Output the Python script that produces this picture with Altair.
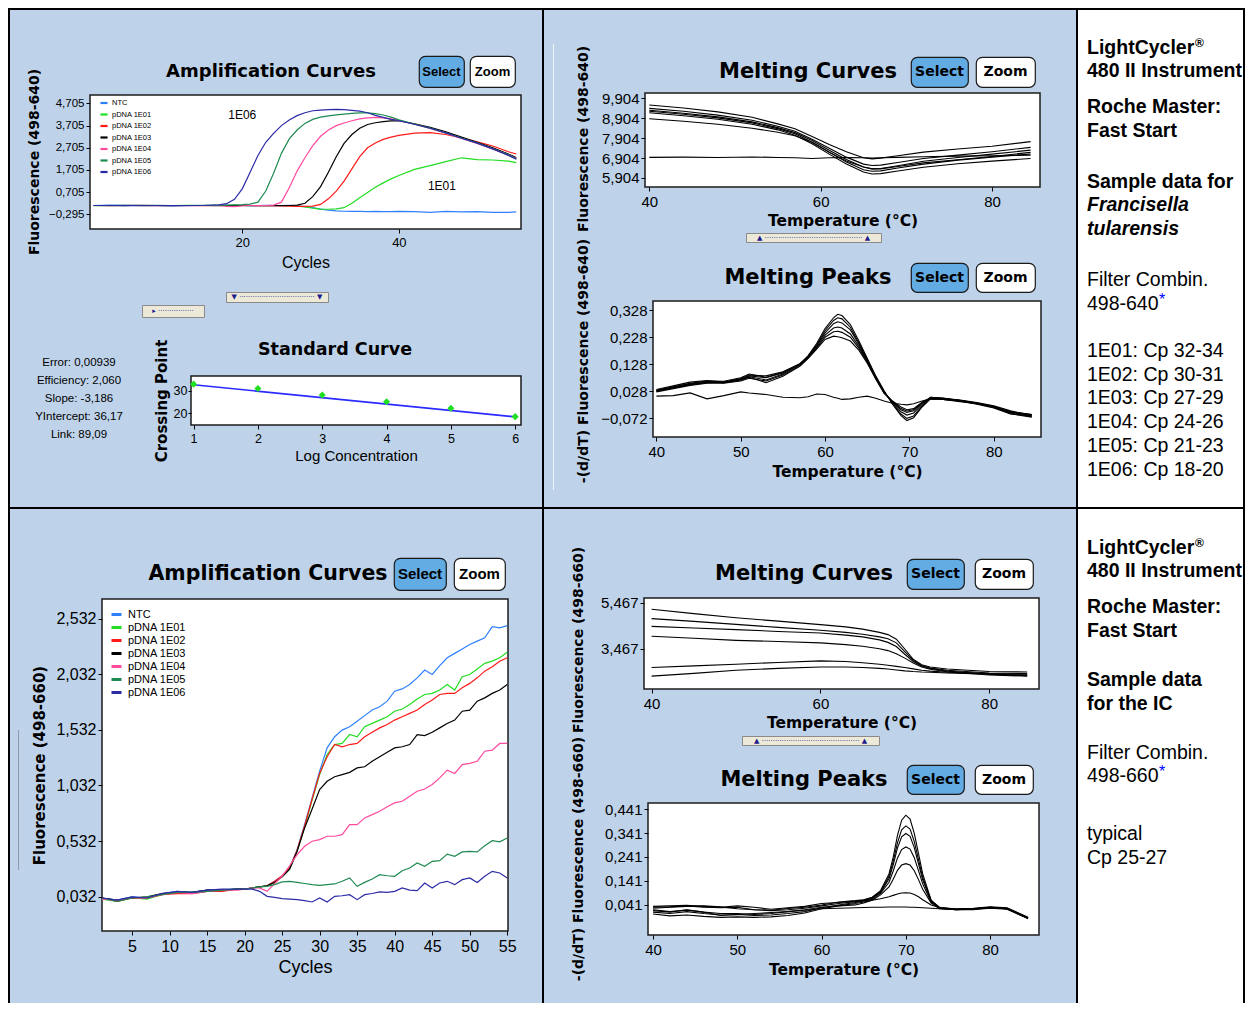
import altair as alt
import pandas as pd

# ------------------------------------------------------------------ data
SERIES = ["NTC", "pDNA 1E01", "pDNA 1E02", "pDNA 1E03", "pDNA 1E04", "pDNA 1E05", "pDNA 1E06"]
SERIES_COLORS = ["#2F80FF", "#22DD22", "#FF1A1A", "#000000", "#FF4A9E", "#1F8A52", "#2B2BA6"]

# top-left amplification curves (498-640)
TL_CYCLES = [1, 3, 5, 7, 9, 11, 13, 15, 17, 18, 19, 20, 21, 22, 23, 24, 25, 26, 27, 28, 29, 30, 31, 32, 33, 34,
             35, 36, 37, 38, 39, 40, 42, 44, 46, 48, 50, 52, 54, 55]
TL_NTC = [0.10, 0.12, 0.09, 0.10, 0.09, 0.10, 0.09, 0.10, 0.10, 0.11, 0.10, 0.10, 0.09, 0.10, 0.11, 0.10, 0.10, 0.11,
          0.08, 0.05, 0.00, -0.06, -0.11, -0.14, -0.16, -0.17, -0.17, -0.18, -0.17, -0.18, -0.18, -0.17, -0.18,
          -0.21, -0.17, -0.19, -0.18, -0.21, -0.21, -0.19]
TL_E01 = [0.09, 0.10, 0.11, 0.09, 0.10, 0.10, 0.11, 0.10, 0.10, 0.10, 0.11, 0.10, 0.10, 0.10, 0.09, 0.10, 0.10, 0.09,
          0.07, 0.04, -0.02, -0.06, -0.07, -0.05, 0.00, 0.20, 0.45, 0.68, 0.92, 1.12, 1.30, 1.45, 1.73, 1.90, 2.08,
          2.25, 2.17, 2.15, 2.10, 2.03]
TL_E02 = [0.10, 0.09, 0.10, 0.10, 0.09, 0.10, 0.10, 0.09, 0.10, 0.10, 0.09, 0.10, 0.10, 0.09, 0.10, 0.09, 0.08, 0.07,
          0.06, 0.06, 0.07, 0.15, 0.40, 0.75, 1.20, 1.75, 2.30, 2.70, 2.92, 3.08, 3.18, 3.26, 3.36, 3.38, 3.30, 3.15,
          2.97, 2.78, 2.52, 2.42]
TL_E03 = [0.10, 0.10, 0.09, 0.11, 0.10, 0.09, 0.10, 0.10, 0.09, 0.10, 0.10, 0.10, 0.09, 0.10, 0.09, 0.10, 0.09, 0.10,
          0.12, 0.20, 0.50, 0.95, 1.60, 2.30, 2.90, 3.30, 3.58, 3.75, 3.83, 3.88, 3.91, 3.92, 3.78, 3.62, 3.42, 3.18,
          2.95, 2.70, 2.42, 2.26]
TL_E04 = [0.10, 0.10, 0.10, 0.09, 0.10, 0.10, 0.09, 0.10, 0.10, 0.06, 0.05, 0.08, 0.10, 0.10, 0.10, 0.12, 0.25, 0.90,
          1.65, 2.25, 2.80, 3.22, 3.50, 3.70, 3.82, 3.92, 4.00, 4.05, 4.07, 4.05, 4.00, 3.93, 3.76, 3.57, 3.36, 3.12,
          2.90, 2.64, 2.38, 2.22]
TL_E05 = [0.10, 0.09, 0.10, 0.10, 0.11, 0.10, 0.10, 0.11, 0.12, 0.12, 0.13, 0.14, 0.16, 0.25, 0.75, 1.55, 2.45, 3.10,
          3.50, 3.80, 3.98, 4.08, 4.14, 4.18, 4.22, 4.25, 4.27, 4.27, 4.24, 4.18, 4.08, 3.96, 3.77, 3.59, 3.37, 3.14,
          2.92, 2.66, 2.38, 2.20]
TL_E06 = [0.10, 0.10, 0.11, 0.10, 0.10, 0.09, 0.10, 0.10, 0.13, 0.18, 0.38, 0.85, 1.60, 2.35, 2.95, 3.35, 3.70, 3.95,
          4.15, 4.28, 4.37, 4.40, 4.42, 4.43, 4.42, 4.39, 4.35, 4.28, 4.16, 4.07, 3.98, 3.92, 3.76, 3.58, 3.37, 3.13,
          2.91, 2.65, 2.36, 2.18]
TL_YTICKS = [-0.295, 0.705, 1.705, 2.705, 3.705, 4.705]
TL_XTICKS = [20, 40]
TL_NOTE_TEXT = ["1E06", "1E01"]
TL_NOTE_CYCLE = [20.0, 45.5]
TL_NOTE_FLUOR = [4.18, 0.98]

# standard curve
STATS_LINES = ["Error: 0,00939", "Efficiency: 2,060", "Slope: -3,186", "YIntercept: 36,17", "Link: 89,09"]
STD_LOGC = [1, 2, 3, 4, 5, 6]
STD_CP = [32.9, 31.0, 28.1, 25.1, 22.2, 18.5]
FIT_LOGC = [1, 6]
FIT_CP = [32.6, 18.4]

# top melting curves / peaks (498-640)
MC1_TEMPS = [40, 44, 48, 52, 55, 57, 59, 61, 63, 65, 66, 67, 69, 72, 76, 80, 84.5]
MC1_A = [9.57, 9.42, 9.22, 8.95, 8.62, 8.38, 7.98, 7.58, 7.22, 6.92, 6.86, 6.90, 7.02, 7.20, 7.36, 7.50, 7.73]
MC1_B = [9.40, 9.25, 9.06, 8.80, 8.50, 8.25, 7.85, 7.40, 6.95, 6.60, 6.53, 6.55, 6.68, 6.88, 7.05, 7.22, 7.44]
MC1_C = [9.30, 9.15, 8.97, 8.72, 8.43, 8.18, 7.78, 7.30, 6.83, 6.45, 6.36, 6.38, 6.52, 6.74, 6.93, 7.10, 7.30]
MC1_D = [9.25, 9.10, 8.92, 8.67, 8.38, 8.12, 7.70, 7.20, 6.70, 6.32, 6.24, 6.26, 6.40, 6.60, 6.80, 6.95, 7.11]
MC1_E = [9.18, 9.03, 8.85, 8.60, 8.32, 8.05, 7.62, 7.10, 6.60, 6.20, 6.10, 6.12, 6.25, 6.44, 6.62, 6.75, 6.88]
MC1_F = [8.88, 8.75, 8.60, 8.40, 8.20, 8.02, 7.70, 7.20, 6.75, 6.45, 6.36, 6.36, 6.48, 6.66, 6.82, 6.98, 7.19]
MC1_G = [6.94, 6.95, 6.93, 6.96, 6.93, 6.92, 6.88, 6.92, 6.93, 6.92, 6.90, 6.92, 6.94, 6.97, 7.00, 7.02, 7.05]
MC1_YTICKS = [5.904, 6.904, 7.904, 8.904, 9.904]

MP1_TEMPS = [40, 42, 44, 46, 48, 50, 51, 53, 55, 57, 58, 59, 60, 61, 61.5, 62, 63, 64, 65, 66, 67, 68, 69, 69.7,
             70.5, 71.5, 72.5, 74, 76, 78, 80, 82, 84.5]
MP1_1 = [0.030, 0.045, 0.058, 0.066, 0.065, 0.078, 0.092, 0.080, 0.098, 0.128, 0.160, 0.205, 0.260, 0.300, 0.313,
         0.308, 0.275, 0.215, 0.150, 0.085, 0.030, -0.020, -0.062, -0.080, -0.070, -0.030, 0.000, -0.002, -0.008,
         -0.018, -0.030, -0.050, -0.060]
MP1_2 = [0.035, 0.048, 0.062, 0.068, 0.062, 0.075, 0.088, 0.085, 0.100, 0.130, 0.158, 0.200, 0.252, 0.290, 0.300,
         0.296, 0.265, 0.208, 0.146, 0.083, 0.028, -0.018, -0.056, -0.072, -0.063, -0.026, 0.004, 0.000, -0.005,
         -0.015, -0.028, -0.047, -0.058]
MP1_3 = [0.028, 0.040, 0.052, 0.060, 0.062, 0.070, 0.082, 0.070, 0.092, 0.126, 0.156, 0.196, 0.244, 0.278, 0.285,
         0.281, 0.255, 0.203, 0.143, 0.080, 0.025, -0.015, -0.048, -0.060, -0.052, -0.020, 0.006, 0.002, -0.004,
         -0.014, -0.026, -0.044, -0.064]
MP1_4 = [0.032, 0.044, 0.056, 0.064, 0.060, 0.072, 0.085, 0.078, 0.096, 0.128, 0.155, 0.192, 0.236, 0.262, 0.266,
         0.262, 0.240, 0.195, 0.140, 0.078, 0.024, -0.012, -0.040, -0.050, -0.044, -0.016, 0.006, 0.003, -0.006,
         -0.016, -0.030, -0.052, -0.066]
MP1_5 = [0.026, 0.038, 0.050, 0.058, 0.058, 0.066, 0.076, 0.066, 0.088, 0.122, 0.152, 0.188, 0.228, 0.248, 0.250,
         0.246, 0.228, 0.188, 0.136, 0.076, 0.022, -0.010, -0.036, -0.045, -0.040, -0.014, 0.004, 0.001, -0.006,
         -0.017, -0.032, -0.055, -0.068]
MP1_6 = [0.030, 0.042, 0.054, 0.062, 0.060, 0.070, 0.080, 0.060, 0.084, 0.120, 0.150, 0.184, 0.220, 0.232, 0.230,
         0.226, 0.214, 0.180, 0.132, 0.074, 0.020, -0.008, -0.030, -0.040, -0.036, -0.012, 0.002, -0.002, -0.008,
         -0.020, -0.034, -0.056, -0.062]
MP1_NTC = [0.010, 0.012, 0.022, 0.000, 0.012, 0.026, 0.022, 0.016, 0.006, 0.004, 0.008, 0.018, 0.016, 0.006, 0.002,
           -0.002, 0.000, 0.006, 0.010, 0.002, -0.008, -0.016, -0.020, -0.022, -0.018, -0.008, 0.000, -0.002, -0.010,
           -0.018, -0.028, -0.048, -0.058]
MP1_YTICKS = [-0.072, 0.028, 0.128, 0.228, 0.328]

# bottom-left amplification curves (498-660)
BL_CYCLES = [1, 3, 5, 7, 9, 11, 13, 15, 17, 19, 20, 21, 22, 23, 24, 25, 26, 27, 28, 29, 30, 31, 32, 33, 34, 35, 36,
             37, 38, 39, 40, 41, 42, 43, 44, 45, 46, 47, 48, 49, 50, 51, 52, 53, 54, 55]
BL_NTC = [0.02, 0.00, 0.03, 0.02, 0.06, 0.08, 0.07, 0.09, 0.09, 0.10, 0.10, 0.11, 0.12, 0.13, 0.17, 0.215, 0.29,
          0.455, 0.68, 0.92, 1.16, 1.37, 1.47, 1.53, 1.56, 1.61, 1.66, 1.71, 1.74, 1.79, 1.88, 1.90, 1.94, 2.00, 2.07,
          2.03, 2.11, 2.18, 2.22, 2.26, 2.30, 2.33, 2.36, 2.46, 2.45, 2.47]
BL_E01 = [0.01, -0.01, 0.02, 0.01, 0.05, 0.07, 0.07, 0.08, 0.09, 0.10, 0.10, 0.11, 0.12, 0.13, 0.16, 0.21, 0.28,
          0.44, 0.66, 0.90, 1.13, 1.31, 1.40, 1.41, 1.49, 1.47, 1.56, 1.59, 1.62, 1.65, 1.70, 1.72, 1.76, 1.81, 1.85,
          1.86, 1.89, 1.94, 1.89, 2.01, 2.03, 2.08, 2.13, 2.15, 2.18, 2.23]
BL_E02 = [0.02, -0.01, 0.02, 0.02, 0.05, 0.06, 0.06, 0.08, 0.08, 0.10, 0.10, 0.11, 0.12, 0.13, 0.17, 0.22, 0.29,
          0.45, 0.67, 0.91, 1.14, 1.29, 1.40, 1.38, 1.40, 1.41, 1.47, 1.51, 1.55, 1.58, 1.62, 1.65, 1.68, 1.71, 1.76,
          1.80, 1.85, 1.86, 1.86, 1.91, 1.95, 2.00, 2.06, 2.10, 2.15, 2.18]
BL_E03 = [0.02, 0.00, 0.02, 0.03, 0.06, 0.07, 0.07, 0.09, 0.09, 0.10, 0.10, 0.11, 0.12, 0.13, 0.16, 0.21, 0.28,
          0.44, 0.65, 0.82, 0.995, 1.07, 1.11, 1.13, 1.15, 1.19, 1.20, 1.25, 1.29, 1.33, 1.37, 1.38, 1.40, 1.49, 1.48,
          1.51, 1.55, 1.59, 1.62, 1.70, 1.71, 1.79, 1.82, 1.86, 1.89, 1.94]
BL_E04 = [0.01, 0.00, 0.02, 0.02, 0.05, 0.07, 0.06, 0.08, 0.09, 0.09, 0.10, 0.11, 0.11, 0.08, 0.15, 0.215, 0.31,
          0.41, 0.485, 0.53, 0.545, 0.575, 0.575, 0.59, 0.68, 0.68, 0.74, 0.77, 0.80, 0.84, 0.875, 0.89, 0.935, 0.98,
          1.00, 1.04, 1.10, 1.17, 1.14, 1.22, 1.23, 1.25, 1.34, 1.35, 1.41, 1.41]
BL_E05 = [0.02, -0.01, 0.02, 0.03, 0.05, 0.07, 0.07, 0.08, 0.09, 0.10, 0.10, 0.11, 0.12, 0.125, 0.14, 0.165, 0.17,
          0.16, 0.15, 0.14, 0.134, 0.14, 0.146, 0.17, 0.20, 0.125, 0.16, 0.19, 0.23, 0.22, 0.215, 0.265, 0.29, 0.335,
          0.305, 0.35, 0.356, 0.415, 0.395, 0.434, 0.44, 0.434, 0.49, 0.535, 0.525, 0.56]
BL_E06 = [0.02, 0.00, 0.03, 0.02, 0.06, 0.08, 0.07, 0.09, 0.10, 0.10, 0.10, 0.10, 0.08, 0.035, 0.026, 0.014, 0.01,
          0.005, -0.004, -0.016, 0.02, -0.016, 0.035, 0.04, 0.05, 0.005, 0.05, 0.06, 0.074, 0.07, 0.08, 0.11, 0.09,
          0.086, 0.155, 0.11, 0.155, 0.17, 0.14, 0.185, 0.20, 0.16, 0.215, 0.26, 0.245, 0.20]
BL_YTICKS = [0.032, 0.532, 1.032, 1.532, 2.032, 2.532]
BL_XTICKS = [5, 10, 15, 20, 25, 30, 35, 40, 45, 50, 55]

# bottom melting curves / peaks (498-660)
MC2_TEMPS = [40, 45, 50, 55, 60, 63, 65, 67, 68, 69, 70, 71, 72, 73, 75, 80, 84.5]
MC2_1 = [5.19, 5.00, 4.82, 4.67, 4.52, 4.42, 4.32, 4.18, 4.08, 3.88, 3.45, 3.00, 2.76, 2.66, 2.57, 2.46, 2.44]
MC2_2 = [4.78, 4.66, 4.53, 4.40, 4.27, 4.18, 4.10, 3.98, 3.90, 3.72, 3.33, 2.95, 2.72, 2.62, 2.52, 2.40, 2.37]
MC2_3 = [4.44, 4.37, 4.30, 4.22, 4.15, 4.06, 3.98, 3.85, 3.74, 3.56, 3.22, 2.90, 2.70, 2.60, 2.48, 2.35, 2.30]
MC2_4 = [4.01, 3.92, 3.83, 3.78, 3.72, 3.64, 3.57, 3.46, 3.38, 3.24, 3.05, 2.84, 2.66, 2.56, 2.45, 2.31, 2.26]
MC2_5 = [2.64, 2.71, 2.78, 2.86, 2.93, 2.90, 2.85, 2.78, 2.74, 2.69, 2.64, 2.58, 2.52, 2.48, 2.43, 2.37, 2.34]
MC2_6 = [2.26, 2.38, 2.52, 2.60, 2.66, 2.66, 2.64, 2.60, 2.57, 2.53, 2.49, 2.46, 2.44, 2.43, 2.40, 2.34, 2.28]
MC2_YTICKS = [3.467, 5.467]

MP2_TEMPS = [40, 42, 44, 46, 48, 50, 52, 54, 56, 58, 60, 62, 64, 65, 66, 67, 68, 68.5, 69, 69.5, 70, 70.5, 71, 71.5,
             72, 73, 74, 76, 78, 80, 82, 83, 84.5]
MP2_1 = [0.030, 0.032, 0.036, 0.030, 0.028, 0.030, 0.020, 0.018, 0.025, 0.030, 0.040, 0.052, 0.058, 0.062, 0.072,
         0.100, 0.170, 0.240, 0.330, 0.395, 0.416, 0.400, 0.340, 0.255, 0.170, 0.060, 0.030, 0.022, 0.024, 0.030,
         0.026, 0.010, -0.015]
MP2_2 = [0.034, 0.036, 0.038, 0.034, 0.030, 0.036, 0.030, 0.022, 0.028, 0.034, 0.046, 0.050, 0.056, 0.060, 0.070,
         0.095, 0.160, 0.222, 0.300, 0.355, 0.371, 0.358, 0.305, 0.230, 0.155, 0.058, 0.028, 0.024, 0.026, 0.032,
         0.028, 0.012, -0.012]
MP2_3 = [0.026, 0.030, 0.034, 0.036, 0.032, 0.024, 0.020, 0.016, 0.020, 0.026, 0.036, 0.046, 0.054, 0.058, 0.068,
         0.092, 0.150, 0.208, 0.278, 0.325, 0.339, 0.327, 0.280, 0.212, 0.145, 0.056, 0.026, 0.020, 0.022, 0.028,
         0.024, 0.008, -0.018]
MP2_4 = [0.010, 0.004, 0.012, 0.004, -0.002, 0.000, -0.004, -0.002, 0.004, 0.012, 0.028, 0.040, 0.050, 0.056, 0.064,
         0.088, 0.135, 0.182, 0.236, 0.272, 0.283, 0.274, 0.238, 0.184, 0.128, 0.052, 0.024, 0.020, 0.020, 0.026,
         0.022, 0.006, -0.016]
MP2_5 = [0.002, -0.006, -0.002, -0.008, -0.012, -0.010, -0.012, -0.010, -0.004, 0.006, 0.024, 0.036, 0.046, 0.052,
         0.060, 0.082, 0.115, 0.148, 0.185, 0.207, 0.213, 0.207, 0.183, 0.146, 0.106, 0.048, 0.026, 0.022, 0.024,
         0.030, 0.026, 0.010, -0.014]
MP2_6 = [0.016, 0.010, 0.020, 0.010, 0.004, 0.004, 0.000, 0.004, 0.012, 0.020, 0.030, 0.036, 0.040, 0.048, 0.060,
         0.066, 0.074, 0.080, 0.086, 0.090, 0.091, 0.090, 0.084, 0.074, 0.062, 0.040, 0.028, 0.022, 0.024, 0.028,
         0.024, 0.008, -0.016]
MP2_NTC = [0.020, 0.012, 0.018, 0.010, -0.004, 0.000, 0.004, 0.008, 0.012, 0.018, 0.024, 0.026, 0.028, 0.029, 0.030,
           0.030, 0.031, 0.031, 0.031, 0.031, 0.031, 0.030, 0.030, 0.029, 0.028, 0.026, 0.024, 0.020, 0.024, 0.028,
           0.024, 0.010, -0.015]
MP2_YTICKS = [0.041, 0.141, 0.241, 0.341, 0.441]

# text column
HEADER_LINES = ["LightCycler", "480 II Instrument"]
MASTER_LINES = ["Roche Master:", "Fast Start"]
TOP_SAMPLE_LINES = ["Sample data for"]
SPECIES_LINES = ["Francisella", "tularensis"]
TOP_FILTER_LINES = ["Filter Combin.", "498-640"]
TOP_CP_LINES = ["1E01: Cp 32-34", "1E02: Cp 30-31", "1E03: Cp 27-29", "1E04: Cp 24-26", "1E05: Cp 21-23",
                "1E06: Cp 18-20"]
IC_SAMPLE_LINES = ["Sample data", "for the IC"]
BOT_FILTER_LINES = ["Filter Combin.", "498-660"]
TYPICAL_LINES = ["typical", "Cp 25-27"]

# ------------------------------------------------------------------ style
BG = "#BED3EA"
SANS = "Liberation Sans, Arial, sans-serif"
DEJAVU = "DejaVu Sans, sans-serif"
BTN_BLUE = "#62ABE3"
TEXT_SIZE = 19.5
LINE_H = 23.7
PLOT_VIEW = alt.ViewBackground(fill="white", stroke="#1c1c1c", strokeWidth=1.5)
ONE = pd.DataFrame({"k": [0]})
EMPTY = pd.DataFrame({"k": pd.Series([], dtype=float)})


def H(*c):
    return alt.hconcat(*c, spacing=0).resolve_scale(color="independent")


def V(*c):
    return alt.vconcat(*c, spacing=0).resolve_scale(color="independent")


def sp(w, h, fill=None):
    ch = alt.Chart(EMPTY).mark_point()
    if fill:
        return ch.properties(width=w, height=h, view=alt.ViewBackground(fill=fill))
    return ch.properties(width=w, height=h)


def txt(label, w, h, size, font=DEJAVU, weight="bold", angle=None, dy=0, color="black", view=None):
    kw = dict(text=label, font=font, fontSize=size, fontWeight=weight, color=color)
    if angle is not None:
        kw["angle"] = angle
    if dy:
        kw["dy"] = dy
    ch = alt.Chart(ONE).mark_text(**kw)
    if view is not None:
        return ch.properties(width=w, height=h, view=view)
    return ch.properties(width=w, height=h)


def btn(label, w, h, fill, size, font):
    return txt(label, w, h, size, font=font,
               view=alt.ViewBackground(fill=fill, stroke="#1a1a1a", strokeWidth=1.2, cornerRadius=6))


def slider(label, w, h):
    return txt(label, w, h, 7, font=DEJAVU, weight="normal", color="#1c1c8c",
               view=alt.ViewBackground(fill="#ECE9D8", stroke="#8a8a8a", strokeWidth=1))


def long_df(xs, named, xname, yname):
    recs = []
    for name, vals in named:
        for xv, yv in zip(xs, vals):
            recs.append({xname: xv, yname: yv, "series": name})
    return pd.DataFrame(recs)


def dec_axis(values, font, size, title=None, **kw):
    return alt.Axis(values=values, labelExpr="replace(format(datum.value, '.3f'), '.', ',')",
                    labelFont=font, labelFontSize=size, labelColor="black", tickColor="black", tickSize=4,
                    labelPadding=2, domain=False, grid=False, title=title, labelFlush=False,
                    labelOverlap=False, **kw)


def x_axis(values, font, size, title, tfont, tsize, tweight, tpad, lpad=3):
    return alt.Axis(values=values, format="d", labelFont=font, labelFontSize=size, labelColor="black",
                    tickColor="black", tickSize=4, labelPadding=lpad, domain=False, grid=False, title=title,
                    titleFont=tfont, titleFontSize=tsize, titleFontWeight=tweight, titleColor="black",
                    titlePadding=tpad, labelFlush=False, labelOverlap=False)


def lin(dom):
    return alt.Scale(domain=dom, nice=False, zero=False)


def text_cell(blocks, w, h, first_offset, margin, extras):
    """One white unit holding every line of a text column; paragraph gaps are given in line units."""
    recs = []
    slot = 0.0
    for blines, weight, style, gap in blocks:
        slot += gap
        for ln in blines:
            recs.append({"line": ln, "slot": slot, "col": 0, "fmt": weight + "|" + style})
            slot += 1
    df = pd.DataFrame(recs)
    base = alt.Chart(df).encode(
        x=alt.X("col:Q", scale=lin([-margin / (w - margin), 1]), axis=None),
        y=alt.Y("slot:Q", scale=lin([(h - first_offset) / LINE_H, -first_offset / LINE_H]), axis=None),
    )
    layers = []
    for fmt in dict.fromkeys(df["fmt"]):
        weight, style = fmt.split("|")
        layers.append(base.transform_filter(alt.datum.fmt == fmt).mark_text(
            align="left", baseline="middle", font=SANS, fontSize=TEXT_SIZE, fontWeight=weight,
            fontStyle=style, color="black").encode(text="line:N"))
    for line_text, sym, dx, dy, size, color, weight in extras:
        layers.append(base.transform_filter(alt.datum.line == line_text).mark_text(
            text=sym, align="left", baseline="middle", dx=dx, dy=dy, font=SANS, fontSize=size,
            fontWeight=weight, color=color))
    return alt.layer(*layers).properties(width=w, height=h, view=alt.ViewBackground(fill="white"))


def center_lines(lines, w, h, size, font):
    n = len(lines)
    df = pd.DataFrame({"line": lines, "row": list(range(n))})
    return alt.Chart(df).mark_text(font=font, fontSize=size, color="black", baseline="middle").encode(
        y=alt.Y("row:Q", scale=lin([n - 0.5, -0.5]), axis=None),
        text="line:N").properties(width=w, height=h)


def melt_chart(temps, curves, xdom, ydom, yticks, xticks, w, h, tpad):
    df = long_df(temps, curves, "temp", "value")
    return alt.Chart(df).mark_line(color="black", strokeWidth=1.1, clip=True).encode(
        x=alt.X("temp:Q", scale=lin(xdom),
                axis=x_axis(xticks, SANS, 15, "Temperature (°C)", DEJAVU, 15.5, "bold", tpad)),
        y=alt.Y("value:Q", scale=lin(ydom), axis=dec_axis(yticks, SANS, 15)),
        detail="series:N",
    ).properties(width=w, height=h, view=PLOT_VIEW)


color_enc_scale = alt.Scale(domain=SERIES, range=SERIES_COLORS)

# ------------------------------------------------------------------ top-left cell
tl_df = long_df(TL_CYCLES, list(zip(SERIES, [TL_NTC, TL_E01, TL_E02, TL_E03, TL_E04, TL_E05, TL_E06])),
                "cycle", "fluor")
tl_x = alt.X("cycle:Q", scale=lin([0.55, 55.6]), axis=x_axis(TL_XTICKS, SANS, 13, "Cycles", SANS, 16, "normal", 5))
tl_y = alt.Y("fluor:Q", scale=lin([-0.96, 5.08]), axis=dec_axis(TL_YTICKS, SANS, 11.5))
tl_lines = alt.Chart(tl_df).mark_line(strokeWidth=1.2, clip=True).encode(
    x=tl_x, y=tl_y,
    color=alt.Color("series:N", scale=color_enc_scale, legend=alt.Legend(
        title=None, orient="none", legendX=9, legendY=3, padding=0, symbolType="stroke",
        symbolStrokeWidth=2.2, symbolSize=50, labelFont=SANS, labelFontSize=7.5, labelColor="black",
        rowPadding=1.5, labelOffset=3)),
)
tl_notes = alt.Chart(pd.DataFrame({"cycle": TL_NOTE_CYCLE, "fluor": TL_NOTE_FLUOR, "label": TL_NOTE_TEXT})).mark_text(
    font=SANS, fontSize=12, color="black").encode(x=tl_x, y=tl_y, text="label:N")
amp_tl = alt.layer(tl_lines, tl_notes).properties(width=431, height=134, view=PLOT_VIEW)

std_x = alt.X("logc:Q", scale=lin([0.96, 6.09]),
              axis=x_axis(STD_LOGC, SANS, 12.5, "Log Concentration", SANS, 15, "normal", 4))
std_y = alt.Y("cp:Q", scale=lin([14.8, 36.5]), axis=alt.Axis(
    values=[20, 30], format="d", labelFont=SANS, labelFontSize=12.5, labelColor="black", tickColor="black",
    tickSize=3, labelPadding=1, domain=False, grid=False, title=None, labelOverlap=False))
std_line = alt.Chart(pd.DataFrame({"logc": FIT_LOGC, "cp": FIT_CP})).mark_line(
    color="#2B2BFF", strokeWidth=1.6).encode(x=std_x, y=std_y)
std_pts = alt.Chart(pd.DataFrame({"logc": STD_LOGC, "cp": STD_CP})).mark_point(
    shape="diamond", filled=True, size=50, color="#1EE01E", opacity=1).encode(x=std_x, y=std_y)
std_chart = alt.layer(std_line, std_pts).properties(width=330, height=49, view=PLOT_VIEW)

tl_title_row = H(sp(120, 31), txt("Amplification Curves", 210, 31, 18), sp(42, 31),
                 btn("Select", 45, 31, BTN_BLUE, 13, SANS), sp(4, 31), btn("Zoom", 45, 31, "white", 13, SANS))
tl_top = H(V(sp(36, 11), txt("Fluorescence (498-640)", 36, 190, 14, angle=270, dy=7)),
           V(tl_title_row, sp(1, 6), H(sp(1, 1), amp_tl)))
tl_sliders = V(H(sp(215, 10), slider("▼ ·································· ▼", 102, 10)),
               sp(1, 1),
               H(sp(131, 12), slider("▸ ················", 62, 12)))
std_right = V(sp(1, 1), H(sp(74, 22), txt("Standard Curve", 180, 22, 17.5)), sp(1, 14), H(sp(1, 1), std_chart))
tl_std = H(V(sp(138, 16), center_lines(STATS_LINES, 138, 90, 11.5, SANS)),
           txt("Crossing Point", 23, 126, 15, angle=270, dy=2),
           std_right)
tl_cell = V(sp(532, 45), tl_top, sp(1, 20), tl_sliders, sp(1, 20), tl_std)

# ------------------------------------------------------------------ top-middle cell
mc1 = melt_chart(MC1_TEMPS, [("a", MC1_A), ("b", MC1_B), ("c", MC1_C), ("d", MC1_D), ("e", MC1_E),
                             ("f", MC1_F), ("g", MC1_G)],
                 [39.5, 85.6], [5.45, 10.17], MC1_YTICKS, [40, 60, 80], 395, 94, 4)
mp1 = melt_chart(MP1_TEMPS, [("a", MP1_1), ("b", MP1_2), ("c", MP1_3), ("d", MP1_4), ("e", MP1_5),
                             ("f", MP1_6), ("g", MP1_NTC)],
                 [39.6, 85.6], [-0.141, 0.362], MP1_YTICKS, [40, 50, 60, 70, 80], 388, 136, 5)
tm_line = V(sp(1, 34), sp(1, 446, "#F2F6FA"))
tm_left = V(sp(44, 34), txt("Fluorescence (498-640)", 44, 190, 14, angle=270, dy=8), sp(44, 2),
            txt("-(d/dT) Fluorescence (498-640)", 44, 250, 14, angle=270, dy=8))
tm_right = V(
    sp(478, 46),
    H(sp(108, 30), txt("Melting Curves", 204, 30, 21), btn("Select", 57, 30, BTN_BLUE, 14, DEJAVU), sp(6, 30),
      btn("Zoom", 59, 30, "white", 14, DEJAVU)),
    sp(1, 2),
    H(sp(2, 1), mc1),
    sp(1, 2),
    H(sp(147, 9), slider("▲ ············································ ▲", 135, 9)),
    sp(1, 19),
    H(sp(108, 29), txt("Melting Peaks", 204, 29, 21), btn("Select", 57, 29, BTN_BLUE, 14, DEJAVU), sp(6, 29),
      btn("Zoom", 59, 29, "white", 14, DEJAVU)),
    sp(1, 7),
    H(sp(1, 1), mp1),
)
tm_cell = H(sp(9, 1), tm_line, tm_left, tm_right)

# ------------------------------------------------------------------ text cells
tr_cell = text_cell(
    [(HEADER_LINES, "bold", "normal", 0), (MASTER_LINES, "bold", "normal", 0.5),
     (TOP_SAMPLE_LINES, "bold", "normal", 1.15), (SPECIES_LINES, "bold", "italic", 0),
     (TOP_FILTER_LINES, "normal", "normal", 1.15), (TOP_CP_LINES, "normal", "normal", 1.0)],
    165, 497, 37.7, 9,
    extras=[("LightCycler", "®", 108, -5, 12, "black", "bold"), ("498-640", "*", 72, -4, 16, "#0000FF", "normal")])

br_cell = text_cell(
    [(HEADER_LINES, "bold", "normal", 0), (MASTER_LINES, "bold", "normal", 0.5),
     (IC_SAMPLE_LINES, "bold", "normal", 1.1), (BOT_FILTER_LINES, "normal", "normal", 1.05),
     (TYPICAL_LINES, "normal", "normal", 1.45)],
    165, 494, 38.7, 9,
    extras=[("LightCycler", "®", 108, -5, 12, "black", "bold"), ("498-660", "*", 72, -4, 16, "#0000FF", "normal")])

# ------------------------------------------------------------------ bottom-left cell
bl_df = long_df(BL_CYCLES, list(zip(SERIES, [BL_NTC, BL_E01, BL_E02, BL_E03, BL_E04, BL_E05, BL_E06])),
                "cycle", "fluor")
bl_chart = alt.Chart(bl_df).mark_line(strokeWidth=1.2, clip=True).encode(
    x=alt.X("cycle:Q", scale=lin([1, 55.1]), axis=x_axis(BL_XTICKS, SANS, 16, "Cycles", SANS, 18, "normal", 4)),
    y=alt.Y("fluor:Q", scale=lin([-0.277, 2.709]), axis=dec_axis(
        BL_YTICKS, SANS, 16, title="Fluorescence (498-660)", titleFont=DEJAVU, titleFontSize=15,
        titleFontWeight="bold", titleColor="black", titlePadding=8)),
    color=alt.Color("series:N", scale=color_enc_scale, legend=alt.Legend(
        title=None, orient="none", legendX=8, legendY=9, padding=0, symbolType="stroke", symbolStrokeWidth=3,
        symbolSize=100, labelFont=SANS, labelFontSize=11, labelColor="black", rowPadding=0, labelOffset=5)),
).properties(width=406, height=332, view=PLOT_VIEW)
bl_cell = V(
    sp(532, 48),
    H(sp(133, 32), txt("Amplification Curves", 250, 32, 20.5), btn("Select", 52, 32, BTN_BLUE, 15, SANS),
      sp(6, 32), btn("Zoom", 51, 32, "white", 15, SANS)),
    sp(1, 7),
    H(sp(8, 1), V(sp(1, 131), sp(1, 140, "#8C9AA8")), sp(13, 1), bl_chart),
)

# ------------------------------------------------------------------ bottom-middle cell
mc2 = melt_chart(MC2_TEMPS, [("a", MC2_1), ("b", MC2_2), ("c", MC2_3), ("d", MC2_4), ("e", MC2_5), ("f", MC2_6)],
                 [39.1, 85.9], [1.696, 5.686], MC2_YTICKS, [40, 60, 80], 395, 91, 4)
mp2 = melt_chart(MP2_TEMPS, [("a", MP2_1), ("b", MP2_2), ("c", MP2_3), ("d", MP2_4), ("e", MP2_5),
                             ("f", MP2_6), ("g", MP2_NTC)],
                 [39.4, 85.8], [-0.086, 0.467], MP2_YTICKS, [40, 50, 60, 70, 80], 391, 132, 5)
bm_left = V(sp(54, 37), txt("Fluorescence (498-660)", 54, 188, 14, angle=270, dy=8),
            txt("-(d/dT) Fluorescence (498-660)", 54, 250, 14, angle=270, dy=8))
bm_right = V(
    sp(478, 49),
    H(sp(104, 30), txt("Melting Curves", 204, 30, 21), btn("Select", 57, 30, BTN_BLUE, 14, DEJAVU), sp(9, 30),
      btn("Zoom", 58, 30, "white", 14, DEJAVU)),
    sp(1, 5),
    H(sp(1, 1), mc2),
    sp(1, 3),
    H(sp(143, 9), slider("▲ ············································ ▲", 137, 9)),
    sp(1, 18),
    H(sp(104, 29), txt("Melting Peaks", 204, 29, 21), btn("Select", 57, 29, BTN_BLUE, 14, DEJAVU), sp(9, 29),
      btn("Zoom", 58, 29, "white", 14, DEJAVU)),
    sp(1, 6),
    H(sp(5, 1), mp2),
)
bm_cell = H(bm_left, bm_right)


# ------------------------------------------------------------------ table layout
def vline(h):
    return sp(2, h, "black")


row1 = H(vline(497), tl_cell, vline(497), tm_cell, vline(497), tr_cell, vline(497))
row2 = H(vline(494), bl_cell, vline(494), bm_cell, vline(494), br_cell, vline(494))

chart = V(sp(1237, 2, "black"), row1, sp(1237, 2, "black"), row2).properties(
    background=BG, padding=0).configure_view(stroke=None)

chart.save("out.html", embed_options={"renderer": "svg", "actions": False})
